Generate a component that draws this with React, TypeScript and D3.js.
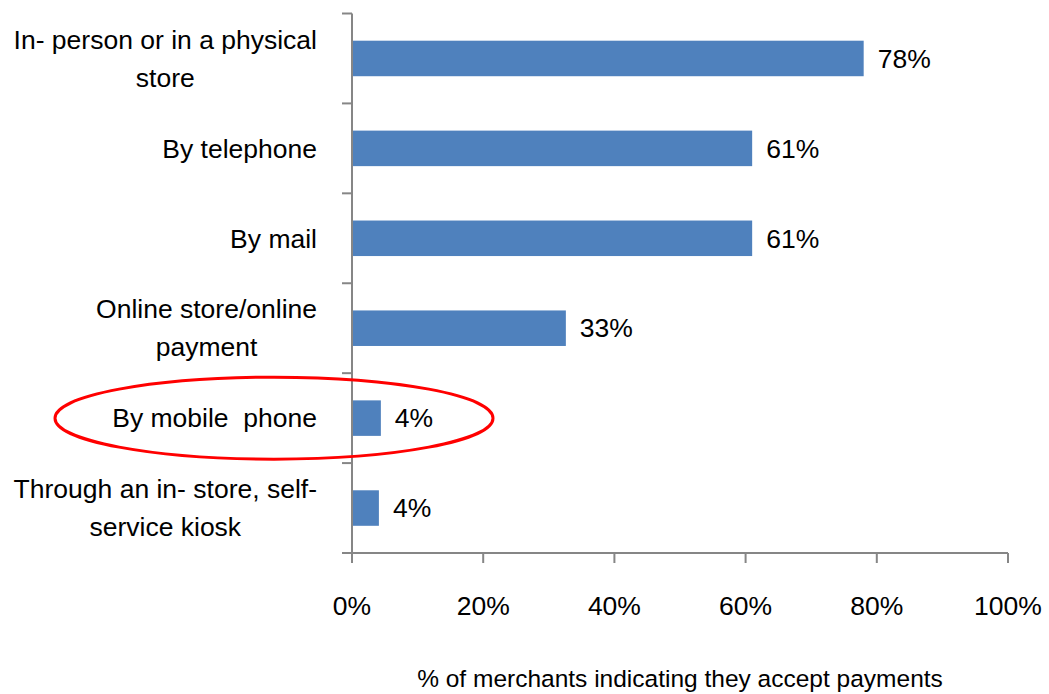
import React from "react";
import * as d3 from "d3";

const categories: string[][] = [
  ["In- person or in a physical", "store"],
  ["By telephone"],
  ["By mail"],
  ["Online store/online", "payment"],
  ["By mobile  phone"],
  ["Through an in- store, self-", "service kiosk"],
];
const values: number[] = [78, 61, 61, 32.6, 4.4, 4.1];
const xTicks: number[] = [0, 20, 40, 60, 80, 100];
const axisTitle = "% of merchants indicating they accept payments";
const highlightIndex = 4;

const W = 1049;
const H = 694;
const FONT = "'Liberation Sans', Arial, sans-serif";
const FS = 26.5;
const AXIS = "#868686";
const BAR = "#4F81BD";

function measure(t: string): number {
  if (typeof document === "undefined") return t.length * FS * 0.5;
  const c = document.createElement("canvas");
  const ctx = c.getContext("2d");
  if (!ctx) return t.length * FS * 0.5;
  ctx.font = `${FS}px ${FONT}`;
  return ctx.measureText(t).width;
}

export default function App() {
  const left = 352;
  const right = 1008;
  const top = 13.5;
  const bottom = 553;
  const x = d3.scaleLinear().domain([0, 100]).range([left, right]);
  const y = d3
    .scaleBand<number>()
    .domain(categories.map((_, i) => i))
    .range([top, bottom])
    .padding(0);
  const bw = y.bandwidth();
  const barH = bw * 0.395;
  const labelRight = 317;
  const lineH = 38;

  const hiY = (y(highlightIndex) as number) + bw / 2;

  return (
    <svg
      width={W}
      height={H}
      style={{ position: "absolute", left: 0, top: 0, background: "#fff" }}
      fontFamily={FONT}
      fontSize={FS}
    >
      {/* bars */}
      {values.map((v, i) => {
        const cy = (y(i) as number) + bw / 2;
        return (
          <g key={i}>
            <rect
              x={x(0)}
              y={cy - barH / 2}
              width={x(v) - x(0)}
              height={barH}
              fill={BAR}
            />
            <text x={x(v) + 14} y={cy} dy="0.35em" fill="#000">
              {Math.round(v) + "%"}
            </text>
          </g>
        );
      })}

      {/* y axis */}
      <line x1={left} x2={left} y1={top} y2={bottom} stroke={AXIS} strokeWidth={2} />
      {d3.range(categories.length + 1).map((i) => {
        const yy = top + i * bw;
        return (
          <line key={i} x1={left - 10} x2={left} y1={yy} y2={yy} stroke={AXIS} strokeWidth={2} />
        );
      })}

      {/* x axis */}
      <line x1={left - 10} x2={right} y1={bottom} y2={bottom} stroke={AXIS} strokeWidth={2} />
      {xTicks.map((t) => (
        <g key={t}>
          <line x1={x(t)} x2={x(t)} y1={bottom} y2={bottom + 10} stroke={AXIS} strokeWidth={2} />
          <text x={x(t)} y={606} dy="0.35em" textAnchor="middle" fill="#000">
            {t + "%"}
          </text>
        </g>
      ))}

      {/* category labels */}
      {categories.map((lines, i) => {
        const cy = (y(i) as number) + bw / 2;
        const maxW = Math.max(...lines.map(measure));
        const cx = labelRight - maxW / 2;
        const y0 = cy - ((lines.length - 1) * lineH) / 2;
        return (
          <g key={i}>
            {lines.map((ln, j) => (
              <text
                key={j}
                x={cx}
                y={y0 + j * lineH}
                dy="0.35em"
                textAnchor="middle"
                fill="#000"
                style={{ whiteSpace: "pre" }}
              >
                {ln}
              </text>
            ))}
          </g>
        );
      })}

      {/* axis title */}
      <text
        x={(left + right) / 2}
        y={678}
        dy="0.35em"
        textAnchor="middle"
        fill="#000"
        fontSize={24.5}
      >
        {axisTitle}
      </text>

      {/* highlight ellipse */}
      <ellipse
        cx={274}
        cy={hiY}
        rx={219}
        ry={41}
        fill="none"
        stroke="#FF0000"
        strokeWidth={3}
      />
    </svg>
  );
}
